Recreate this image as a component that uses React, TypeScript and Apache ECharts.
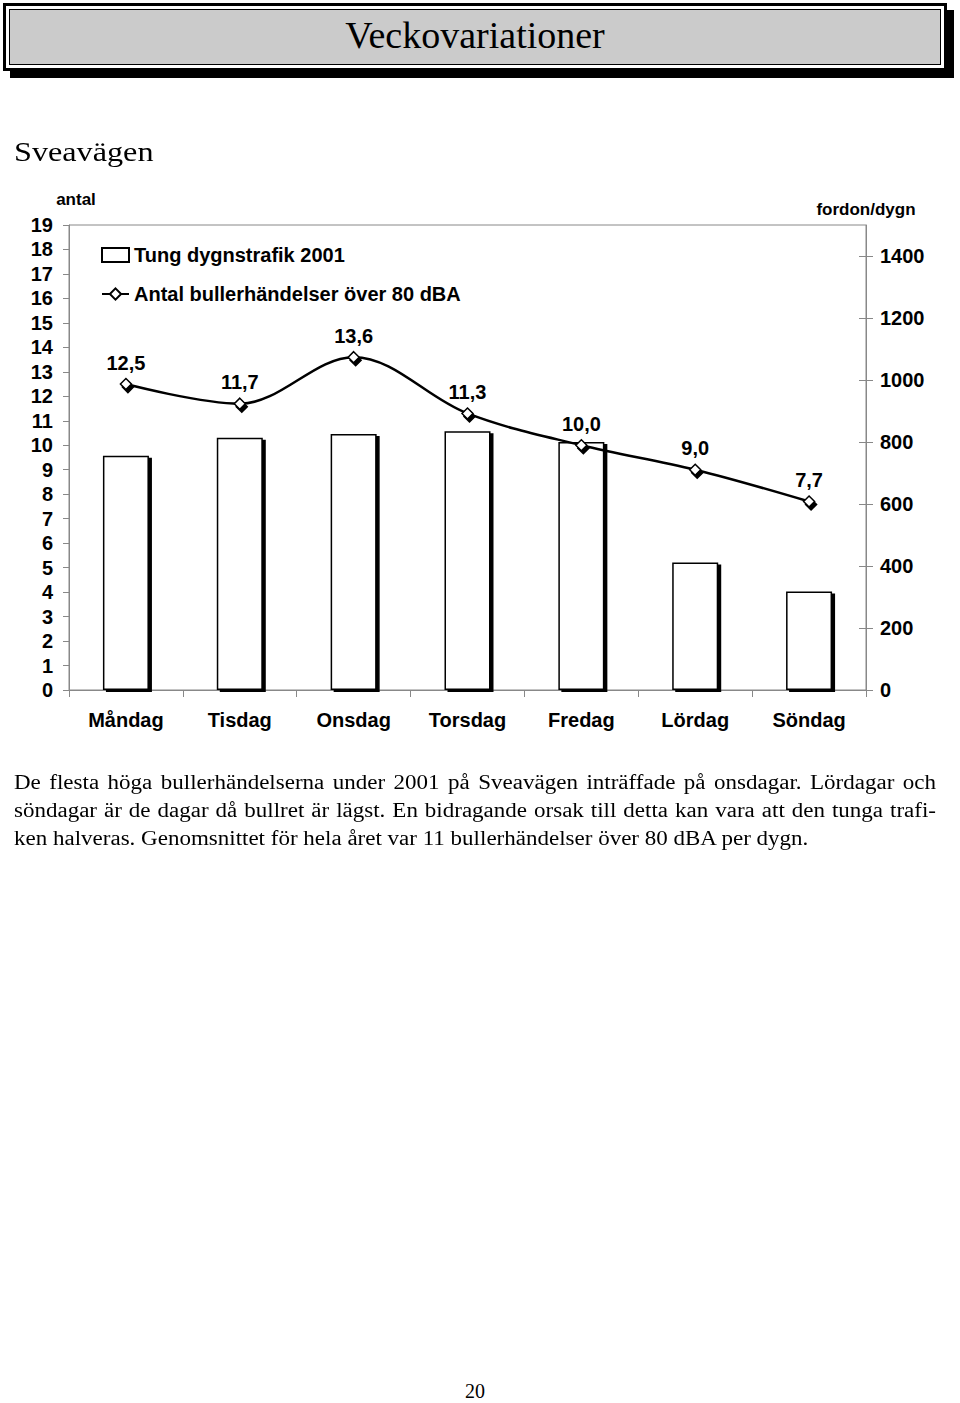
import React, { useEffect, useRef } from "react";
import * as echarts from "echarts";

const days = ["Måndag", "Tisdag", "Onsdag", "Torsdag", "Fredag", "Lördag", "Söndag"];
const heavyTraffic = [756, 814, 826, 835, 800, 411, 318];
const noiseEvents = [12.5, 11.7, 13.6, 11.3, 10.0, 9.0, 7.7];
const rightTicks = [0, 200, 400, 600, 800, 1000, 1200, 1400];
const seriesNames = ["Tung dygnstrafik 2001", "Antal bullerhändelser över 80 dBA"];

const SANS = "'Liberation Sans', Arial, sans-serif";
const SERIF = "'Liberation Serif', 'Times New Roman', serif";

function Chart() {
  const ref = useRef<HTMLDivElement>(null);
  useEffect(() => {
    if (!ref.current) return;
    const chart = echarts.init(ref.current, undefined, { renderer: "svg" });
    const axisColor = "#888";
    const bold = { color: "#000", fontFamily: SANS, fontWeight: "bold" as const };
    chart.setOption({
      animation: false,
      grid: { left: 69, top: 45, right: 94, bottom: 50, show: true, borderColor: axisColor, borderWidth: 1 },
      legend: {
        data: [
          { name: seriesNames[0], icon: "rect" },
          { name: seriesNames[1] },
        ],
        orient: "vertical",
        left: 101,
        top: 65,
        padding: 0,
        itemWidth: 27,
        itemHeight: 14,
        itemGap: 19,
        textStyle: { ...bold, fontSize: 20 },
      },
      xAxis: {
        type: "category",
        data: days,
        boundaryGap: true,
        axisLine: { show: true, lineStyle: { color: axisColor } },
        axisTick: { show: true, length: 7, alignWithLabel: false, lineStyle: { color: axisColor } },
        axisLabel: { ...bold, fontSize: 20, margin: 20 },
        splitLine: { show: false },
      },
      yAxis: [
        {
          type: "value",
          min: 0,
          max: 19,
          interval: 1,
          position: "left",
          name: "antal",
          nameLocation: "end",
          nameGap: 17,
          nameTextStyle: { ...bold, fontSize: 17, padding: [0, 0, 0, 14] },
          axisLine: { show: true, lineStyle: { color: axisColor } },
          axisTick: { show: true, length: 6, lineStyle: { color: axisColor } },
          axisLabel: { ...bold, fontSize: 20, margin: 16 },
          splitLine: { show: false },
        },
        {
          type: "value",
          min: 0,
          max: 1500,
          interval: 200,
          position: "right",
          offset: 0,
          name: "fordon/dygn",
          nameLocation: "end",
          nameGap: 7,
          nameTextStyle: { ...bold, fontSize: 17 },
          axisLine: { show: true, lineStyle: { color: axisColor } },
          axisTick: { show: true, length: 7, customValues: rightTicks, lineStyle: { color: axisColor } },
          axisLabel: {
            ...bold,
            fontSize: 20,
            margin: 14,
            customValues: rightTicks,
            formatter: (v: number) => (v > 1400 ? "" : String(v)),
          },
          splitLine: { show: false },
        },
        {
          type: "value",
          min: 0,
          max: 1500,
          interval: 200,
          position: "right",
          offset: 0,
          axisLine: { show: false },
          axisTick: { show: true, inside: true, length: 7, customValues: rightTicks, lineStyle: { color: axisColor } },
          axisLabel: { show: false },
          splitLine: { show: false },
        },
      ],
      series: [
        {
          name: seriesNames[0],
          type: "bar",
          yAxisIndex: 1,
          data: heavyTraffic,
          barWidth: 46,
          itemStyle: {
            color: "#fff",
            borderColor: "#000",
            borderWidth: 1.5,
            shadowColor: "#000",
            shadowBlur: 0,
            shadowOffsetX: 3,
            shadowOffsetY: 2,
          },
        },
        {
          name: seriesNames[1],
          type: "line",
          yAxisIndex: 0,
          data: noiseEvents,
          smooth: 0.35,
          symbol: "diamond",
          symbolSize: 11,
          lineStyle: { color: "#000", width: 2.5 },
          itemStyle: {
            color: "#fff",
            borderColor: "#000",
            borderWidth: 1.5,
            shadowColor: "#000",
            shadowBlur: 0,
            shadowOffsetX: 2,
            shadowOffsetY: 3,
          },
          label: {
            show: true,
            position: "top",
            distance: 5,
            ...bold,
            fontSize: 20,
            formatter: (p: any) => Number(p.value).toFixed(1).replace(".", ","),
          },
          z: 5,
        },
      ],
    });
    return () => chart.dispose();
  }, []);
  return <div ref={ref} style={{ position: "absolute", left: 0, top: 180, width: 960, height: 560 }} />;
}

export default function App() {
  useEffect(() => {
    document.body.style.margin = "0";
  }, []);
  const SX = 1.15;
  const lineStyle: React.CSSProperties = {
    whiteSpace: "nowrap",
    textAlign: "justify",
    textAlignLast: "justify",
    height: 28,
    lineHeight: "28px",
  };
  return (
    <div style={{ position: "relative", width: 960, height: 1403, background: "#fff", overflow: "hidden" }}>
      <div
        style={{
          position: "absolute",
          left: 3,
          top: 3,
          width: 938,
          height: 62,
          border: "3px solid #000",
          boxShadow: "7px 7px 0 #000",
          background: "#fff",
        }}
      >
        <div
          style={{
            position: "absolute",
            left: 3,
            top: 3,
            right: 3,
            bottom: 3,
            border: "1px solid #000",
            background: "#cbcbcb",
            display: "flex",
            alignItems: "center",
            justifyContent: "center",
            fontFamily: SERIF,
            fontSize: 38,
            color: "#000",
            paddingBottom: 5,
            boxSizing: "border-box",
          }}
        >
          Veckovariationer
        </div>
      </div>
      <div
        style={{
          position: "absolute",
          left: 14,
          top: 136,
          fontFamily: SERIF,
          fontSize: 28,
          color: "#000",
          transform: `scaleX(${SX})`,
          transformOrigin: "left top",
        }}
      >
        Sveavägen
      </div>
      <Chart />
      <div
        style={{
          position: "absolute",
          left: 14,
          top: 768,
          width: 922 / SX,
          fontFamily: SERIF,
          fontSize: 20,
          color: "#000",
          transform: `scaleX(${SX})`,
          transformOrigin: "left top",
        }}
      >
        <div style={lineStyle}>
          De flesta höga bullerhändelserna under 2001 på Sveavägen inträffade på onsdagar. Lördagar och
        </div>
        <div style={lineStyle}>
          söndagar är de dagar då bullret är lägst. En bidragande orsak till detta kan vara att den tunga trafi-
        </div>
        <div style={{ whiteSpace: "nowrap", height: 28, lineHeight: "28px" }}>
          ken halveras. Genomsnittet för hela året var 11 bullerhändelser över 80 dBA per dygn.
        </div>
      </div>
      <div
        style={{
          position: "absolute",
          left: 0,
          width: 950,
          top: 1380,
          textAlign: "center",
          fontFamily: SERIF,
          fontSize: 20,
          color: "#000",
        }}
      >
        20
      </div>
    </div>
  );
}
